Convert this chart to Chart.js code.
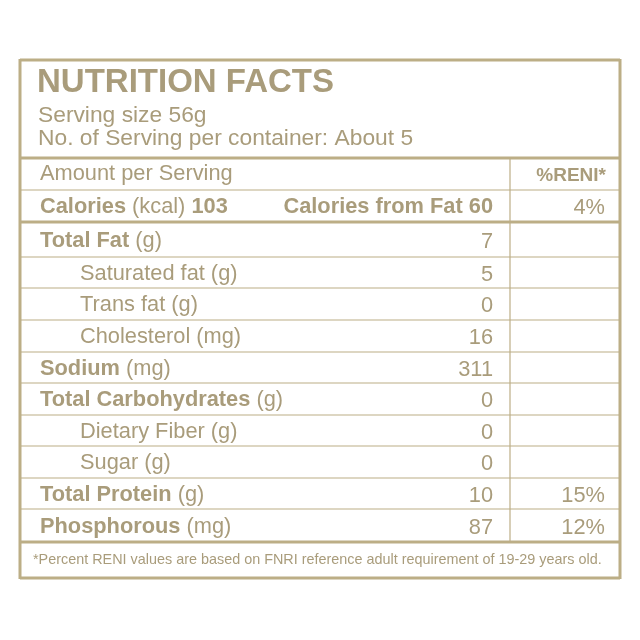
<!DOCTYPE html>
<html><head><meta charset="utf-8">
<script src="https://cdn.jsdelivr.net/npm/chart.js@4"></script>
<style>html,body{margin:0;padding:0;background:#fff}#w{width:640px;height:640px}</style>
</head><body><div id="w"><canvas id="c"></canvas></div>
<script>
const nutrients = ["Total Fat","Saturated fat","Trans fat","Cholesterol","Sodium","Total Carbohydrates","Dietary Fiber","Sugar","Total Protein","Phosphorous"];
const units = ["(g)","(g)","(g)","(mg)","(mg)","(g)","(g)","(g)","(g)","(mg)"];
const boldRow = [true,false,false,false,true,true,false,false,true,true];
const amounts = ["7","5","0","16","311","0","0","0","10","87"];
const reni = ["","","","","","","","","15%","12%"];
const calories = "103", caloriesFromFat = "60", caloriesReni = "4%";

const C = '#a99c7b', L = '#bcae86';
const F = '"Liberation Sans", Arial, sans-serif';
const rowTops = [222,257,288,320,352,383,415,446,478,509,542];
const S = 21.8;

const tablePlugin = {
  id:'table',
  afterDraw(chart){
    const ctx = chart.ctx, X = v=>chart.scales.x.getPixelForValue(v), Y = v=>chart.scales.y.getPixelForValue(v);
    ctx.save();
    ctx.strokeStyle = L;
    const line=(x1,y1,x2,y2,w)=>{ctx.lineWidth=w;ctx.beginPath();ctx.moveTo(X(x1),Y(y1));ctx.lineTo(X(x2),Y(y2));ctx.stroke();};
    line(20,60,620,60,3); line(20,578,620,578,3); line(20,59,20,579,3); line(620,59,620,579,3);
    line(20,158,620,158,3); line(20,190,620,190,1.2); line(20,222,620,222,3); line(20,542,620,542,3);
    for(let i=1;i<rowTops.length-1;i++) line(20,rowTops[i],620,rowTops[i],1.2);
    line(510,158,510,542,1.2);
    ctx.fillStyle = C; ctx.textBaseline='middle';
    const txt=(s,x,y,size,bold,align)=>{ctx.font=(bold?'bold ':'')+size+'px '+F;ctx.textAlign=align||'left';ctx.fillText(s,X(x),Y(y));return ctx.measureText(s).width;};
    txt('NUTRITION FACTS',37,83,33,true);
    txt('Serving size 56g',38,116,S+1,false);
    txt('No. of Serving per container: About 5',38,139,S+1,false);
    txt('Amount per Serving',40,174,S,false);
    txt('%RENI*',606,176,19,true,'right');
    let w = txt('Calories',40,207,S,true);
    w += txt(' (kcal) ',40+w,207,S,false);
    txt(calories,40+w,207,S,true);
    txt('Calories from Fat '+caloriesFromFat,493,207,S,true,'right');
    txt(caloriesReni,605,208,S,false,'right');
    nutrients.forEach((n,i)=>{
      const y=(rowTops[i]+rowTops[i+1])/2+1;
      const x = boldRow[i]?40:80;
      const ww = txt(n,x,y,S,boldRow[i]);
      txt(' '+units[i],x+ww,y,S,false);
      txt(amounts[i],493,y+1,S,false,'right');
      if(reni[i]) txt(reni[i],605,y+1,S,false,'right');
    });
    txt('*Percent RENI values are based on FNRI reference adult requirement of 19-29 years old.',33,560,14.4,false);
    ctx.restore();
  }
};
new Chart(document.getElementById('c'),{
  type:'scatter',
  data:{datasets:[{data:[]}]},
  options:{responsive:true,maintainAspectRatio:false,animation:false,
    layout:{padding:0},
    plugins:{legend:{display:false},tooltip:{enabled:false}},
    scales:{x:{type:'linear',min:0,max:640,display:false},y:{type:'linear',min:0,max:640,reverse:true,display:false}}},
  plugins:[tablePlugin]
});
</script></body></html>
